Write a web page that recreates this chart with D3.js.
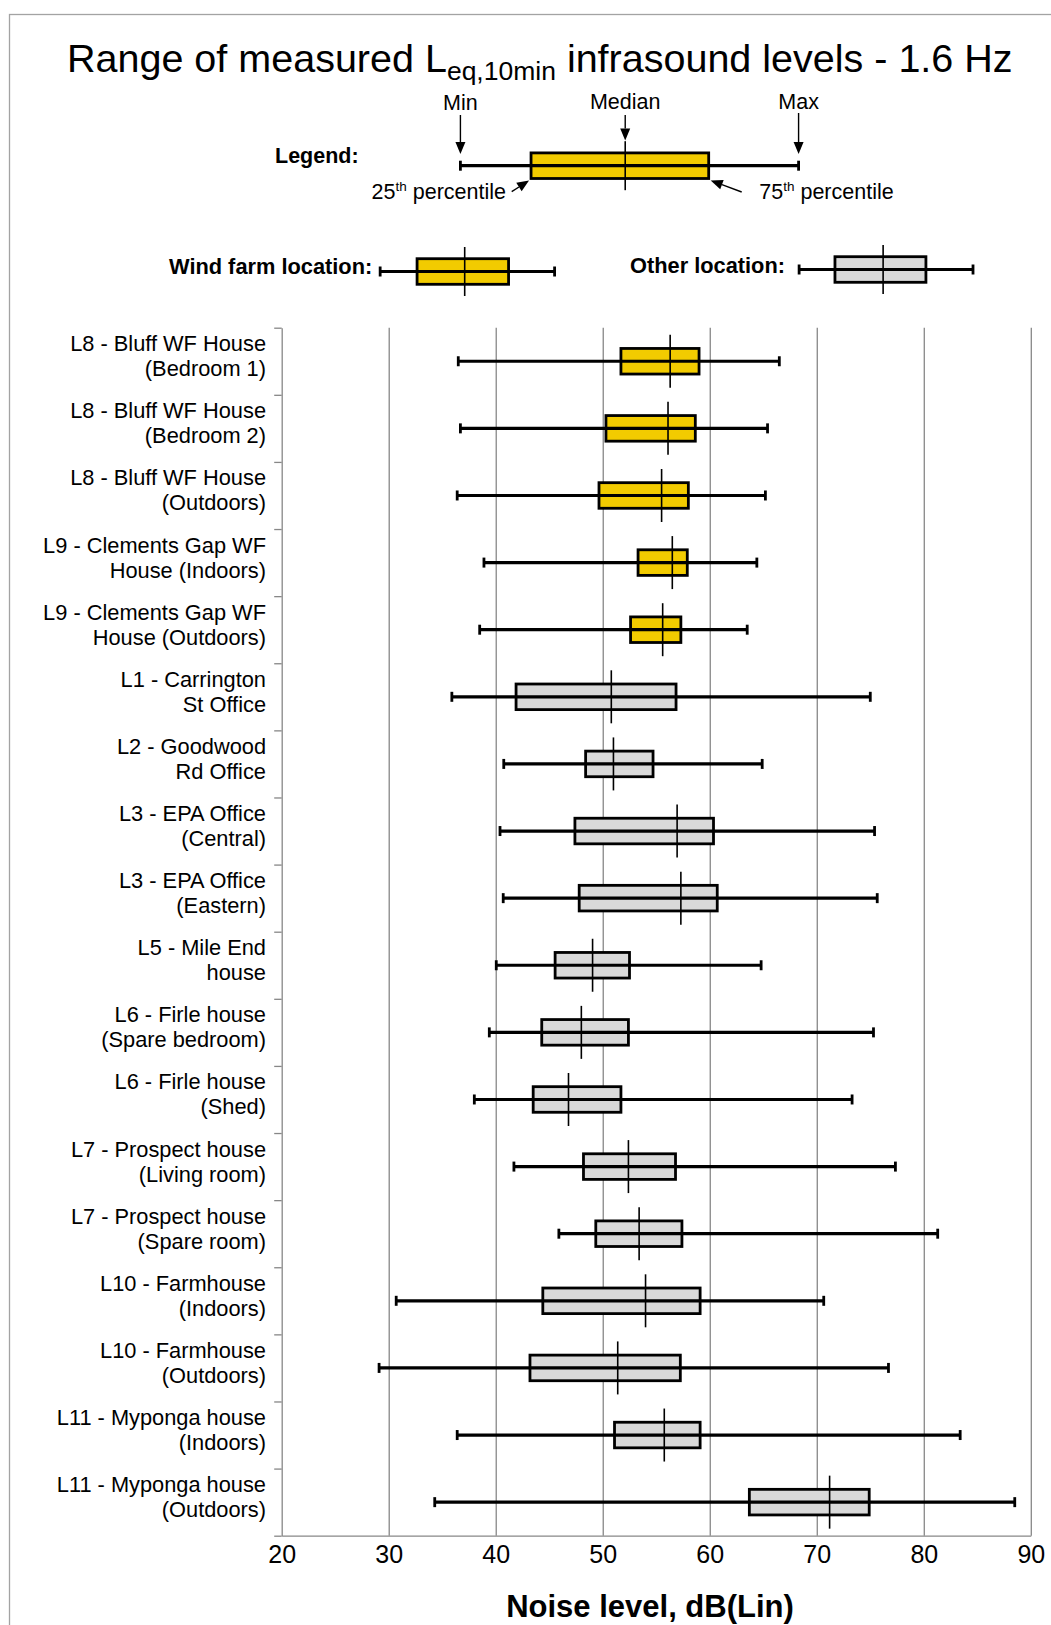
<!DOCTYPE html>
<html>
<head>
<meta charset="utf-8">
<script src="https://cdn.jsdelivr.net/npm/d3@7"></script>
<style>
  body { margin: 0; background: #fff; }
  svg { display: block; }
  text { font-family: "Liberation Sans", Arial, sans-serif; fill: #000; white-space: pre; }
</style>
</head>
<body>
<svg id="chart" width="1051" height="1625"></svg>
<script>
// Measurement locations (two-line labels)
const locationLine1 = [
  "L8 - Bluff WF House", "L8 - Bluff WF House", "L8 - Bluff WF House",
  "L9 - Clements Gap WF", "L9 - Clements Gap WF",
  "L1 - Carrington", "L2 - Goodwood", "L3 - EPA Office", "L3 - EPA Office",
  "L5 - Mile End", "L6 - Firle house", "L6 - Firle house",
  "L7 - Prospect house", "L7 - Prospect house",
  "L10 - Farmhouse", "L10 - Farmhouse",
  "L11 - Myponga house", "L11 - Myponga house"
];
const locationLine2 = [
  "(Bedroom 1)", "(Bedroom 2)", "(Outdoors)",
  "House (Indoors)", "House (Outdoors)",
  "St Office", "Rd Office", "(Central)", "(Eastern)",
  "house", "(Spare bedroom)", "(Shed)",
  "(Living room)", "(Spare room)",
  "(Indoors)", "(Outdoors)",
  "(Indoors)", "(Outdoors)"
];
const locationType = [
  "wind", "wind", "wind", "wind", "wind",
  "other", "other", "other", "other", "other", "other", "other",
  "other", "other", "other", "other", "other", "other"
];

// Leq,10min statistics at 1.6 Hz, dB(Lin)
const minLevels    = [36.5, 36.7, 36.4, 38.9, 38.5, 35.9, 40.75, 40.4, 40.7, 40.05, 39.4, 38.0, 41.7, 45.9, 30.7, 29.1, 36.4, 34.3];
const q1Levels     = [51.7, 50.3, 49.65, 53.3, 52.6, 41.9, 48.4, 47.4, 47.8, 45.55, 44.3, 43.5, 48.2, 49.35, 44.4, 43.2, 51.1, 63.7];
const medianLevels = [56.3, 56.1, 55.5, 56.5, 55.6, 50.8, 51.0, 56.95, 57.3, 49.05, 48.0, 46.8, 52.4, 53.4, 54.0, 51.4, 55.75, 71.2];
const q3Levels     = [59.0, 58.65, 58.0, 57.9, 57.3, 56.85, 54.7, 60.35, 60.7, 52.5, 52.4, 51.7, 56.8, 57.4, 59.1, 57.25, 59.1, 74.9];
const maxLevels    = [66.5, 65.4, 65.2, 64.4, 63.5, 75.0, 64.9, 75.4, 75.65, 64.8, 75.3, 73.3, 77.35, 81.3, 70.65, 76.7, 83.4, 88.5];

// Axis ticks
const xTickValues = [20, 30, 40, 50, 60, 70, 80, 90];

// Key boxes shown in the legend (min, q1, median, q3, max), on the same dB scale
const legendKeyStats   = [36.7, 43.3, 52.1, 59.9, 68.3];
const windSampleStats  = [29.2, 32.65, 37.1, 41.2, 45.5];
const otherSampleStats = [68.35, 71.7, 76.2, 80.2, 84.6];

const fills = { wind: "#F2CB00", other: "#D9D9D9" };
const gridColor = "#878787";

const svg = d3.select("#chart");

// frame round the figure
svg.append("rect")
  .attr("x", 9.5).attr("y", 14.5).attr("width", 1200).attr("height", 1700)
  .attr("fill", "none").attr("stroke", "#a3a3a3").attr("stroke-width", 1.3);

const plot = { left: 281.7, right: 1030.8, top: 327.7, bottom: 1535.7 };
const n = locationLine1.length;

const x = d3.scaleLinear().domain([20, 90]).range([plot.left, plot.right]);
const y = d3.scaleBand().domain(d3.range(n)).range([plot.top, plot.bottom]).padding(0);
const yEdge = d3.scaleLinear().domain([0, n]).range([plot.top, plot.bottom]);

// vertical gridlines
svg.append("g")
  .attr("transform", `translate(0,${plot.bottom})`)
  .call(d3.axisBottom(x).tickValues(xTickValues.slice(1)).tickSize(-(plot.bottom - plot.top)).tickFormat(""))
  .call(g => g.select(".domain").remove())
  .call(g => g.selectAll("line").attr("stroke", gridColor).attr("stroke-width", 1.3));

// category axis with boundary ticks
svg.append("g")
  .attr("transform", `translate(${plot.left},0)`)
  .call(d3.axisLeft(yEdge).tickValues(d3.range(n + 1)).tickSize(7.5).tickSizeOuter(0).tickFormat(""))
  .call(g => g.select(".domain").attr("stroke", gridColor).attr("stroke-width", 1.3))
  .call(g => g.selectAll("line").attr("stroke", gridColor).attr("stroke-width", 1.3));

// value axis
svg.append("g")
  .attr("transform", `translate(0,${plot.bottom})`)
  .call(d3.axisBottom(x).tickValues(xTickValues).tickSize(0).tickSizeOuter(0).tickPadding(9.5).tickFormat(d3.format("d")))
  .call(g => g.select(".domain").attr("stroke", gridColor).attr("stroke-width", 1.3))
  .call(g => g.selectAll("text").attr("font-size", 25).attr("font-family", "Liberation Sans, Arial, sans-serif").attr("fill", "#000"));

// category labels
const labels = svg.append("g");
d3.range(n).forEach(i => {
  const cy = y(i) + y.bandwidth() / 2;
  const t = labels.append("text")
    .attr("text-anchor", "end")
    .attr("font-size", 21.8);
  t.append("tspan").attr("x", 266).attr("y", cy - 10).text(locationLine1[i]);
  t.append("tspan").attr("x", 266).attr("y", cy + 15).text(locationLine2[i]);
});

// box-and-whisker mark
function drawBox(g, s, cy, fill, medHalf) {
  const boxHalf = 12.8, capHalf = 5;
  g.append("rect")
    .attr("x", x(s[1])).attr("y", cy - boxHalf)
    .attr("width", x(s[3]) - x(s[1])).attr("height", boxHalf * 2)
    .attr("fill", fill).attr("stroke", "#000").attr("stroke-width", 2.8);
  g.append("line")
    .attr("x1", x(s[0])).attr("x2", x(s[4])).attr("y1", cy).attr("y2", cy)
    .attr("stroke", "#000").attr("stroke-width", 3.2);
  [s[0], s[4]].forEach(v => {
    g.append("line")
      .attr("x1", x(v)).attr("x2", x(v)).attr("y1", cy - capHalf).attr("y2", cy + capHalf)
      .attr("stroke", "#000").attr("stroke-width", 2.8);
  });
  g.append("line")
    .attr("x1", x(s[2])).attr("x2", x(s[2])).attr("y1", cy - medHalf).attr("y2", cy + medHalf)
    .attr("stroke", "#000").attr("stroke-width", 1.6);
}

const boxes = svg.append("g");
d3.range(n).forEach(i => {
  const cy = y(i) + y.bandwidth() / 2;
  drawBox(boxes.append("g"),
    [minLevels[i], q1Levels[i], medianLevels[i], q3Levels[i], maxLevels[i]],
    cy, fills[locationType[i]], 26.5);
});

// title
const title = svg.append("text").attr("x", 67).attr("y", 71.7).attr("font-size", 39.5);
title.append("tspan").text("Range of measured L");
title.append("tspan").attr("font-size", 26.5).attr("dy", 8.5).text("eq,10min");
title.append("tspan").attr("font-size", 39.5).attr("dy", -8.5).text(" infrasound levels - 1.6 Hz");

// legend
const legend = svg.append("g");
legend.append("text").attr("x", 275).attr("y", 163).attr("font-size", 21.5).attr("font-weight", "bold").text("Legend:");
drawBox(legend.append("g"), legendKeyStats, 165.7, fills.wind, 24.5);

function arrow(g, x1, y1, x2, y2) {
  const ang = Math.atan2(y2 - y1, x2 - x1);
  const len = 12, half = 5;
  const bx = x2 - len * Math.cos(ang), by = y2 - len * Math.sin(ang);
  g.append("line").attr("x1", x1).attr("y1", y1).attr("x2", bx).attr("y2", by)
    .attr("stroke", "#000").attr("stroke-width", 1.4);
  const px = -Math.sin(ang) * half, py = Math.cos(ang) * half;
  g.append("path")
    .attr("d", `M${x2},${y2}L${bx + px},${by + py}L${bx - px},${by - py}Z`)
    .attr("fill", "#000");
}

const keyLabels = [
  { text: "Min", v: legendKeyStats[0], top: 115, tip: 154, base: 109.5 },
  { text: "Median", v: legendKeyStats[2], top: 115, tip: 140.5, base: 109.3 },
  { text: "Max", v: legendKeyStats[4], top: 113, tip: 154, base: 108.5 }
];
keyLabels.forEach(k => {
  legend.append("text").attr("x", x(k.v)).attr("y", k.base).attr("text-anchor", "middle")
    .attr("font-size", 21.5).text(k.text);
  arrow(legend, x(k.v), k.top, x(k.v), k.tip);
});

const p25 = legend.append("text").attr("x", 506).attr("y", 199.3).attr("text-anchor", "end").attr("font-size", 21.5);
p25.append("tspan").text("25");
p25.append("tspan").attr("font-size", 13.5).attr("dy", -8).text("th");
p25.append("tspan").attr("dy", 8).text(" percentile");
arrow(legend, 511.7, 191.7, x(legendKeyStats[1]) - 2, 180.5);

const p75 = legend.append("text").attr("x", 759.3).attr("y", 198.5).attr("font-size", 21.5);
p75.append("tspan").text("75");
p75.append("tspan").attr("font-size", 13.5).attr("dy", -8).text("th");
p75.append("tspan").attr("dy", 8).text(" percentile");
arrow(legend, 741.7, 192, x(legendKeyStats[3]) + 2, 180.5);

legend.append("text").attr("x", 169).attr("y", 274).attr("font-size", 21.8).attr("font-weight", "bold").text("Wind farm location:");
drawBox(legend.append("g"), windSampleStats, 271.5, fills.wind, 24.5);
legend.append("text").attr("x", 630).attr("y", 272.7).attr("font-size", 21.8).attr("font-weight", "bold").text("Other location:");
drawBox(legend.append("g"), otherSampleStats, 269.5, fills.other, 24.5);

// axis title
svg.append("text").attr("x", 650).attr("y", 1617).attr("text-anchor", "middle")
  .attr("font-size", 31).attr("font-weight", "bold").text("Noise level, dB(Lin)");
</script>
</body>
</html>
